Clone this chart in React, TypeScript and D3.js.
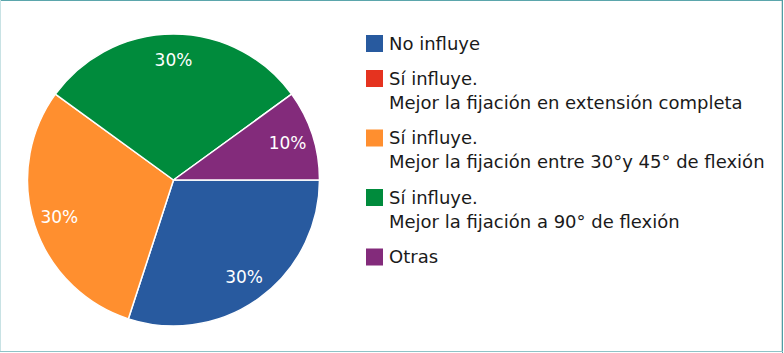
import React from "react";
import * as d3 from "d3";

const categories: string[][] = [
  ["No influye"],
  ["Sí influye.", "Mejor la fijación en extensión completa"],
  ["Sí influye.", "Mejor la fijación entre 30°y 45° de flexión"],
  ["Sí influye.", "Mejor la fijación a 90° de flexión"],
  ["Otras"],
];
const values: number[] = [30, 0, 30, 30, 10];
const colors: string[] = ["#285A9F", "#E5331F", "#FF8F2F", "#008B3C", "#832B7B"];

const W = 784;
const H = 353;
const FONT = "'DejaVu Sans', 'Noto Sans', sans-serif";

export default function App() {
  const cx = 173.5;
  const cy = 180;
  const R = 146;
  const total = d3.sum(values);
  const pie = d3
    .pie<number>()
    .sort(null)
    .value((d) => d)
    .startAngle(Math.PI / 2)
    .endAngle(Math.PI / 2 + 2 * Math.PI);
  const arcs = pie(values);
  const arcGen = d3.arc<d3.PieArcDatum<number>>().innerRadius(0).outerRadius(R);
  const labelArc = d3.arc<d3.PieArcDatum<number>>().innerRadius(120).outerRadius(120);

  let yCursor = 35;
  const legendItems = categories.map((lines, i) => {
    const top = yCursor;
    yCursor += 35 + 24.5 * (lines.length - 1);
    return { lines, top, color: colors[i] };
  });

  return (
    <svg
      width={W}
      height={H}
      style={{ position: "absolute", left: 0, top: 0, display: "block" }}
      fontFamily={FONT}
    >
      <rect x={0} y={0} width={W} height={H} fill="#ffffff" />
      <line x1={0} x2={783} y1={0.5} y2={0.5} stroke="#5BA6AC" strokeWidth={1} />
      <line x1={0.5} x2={0.5} y1={0} y2={352} stroke="#C8E2E4" strokeWidth={1} />
      <line x1={781.5} x2={781.5} y1={1} y2={352} stroke="#D5DDDE" strokeWidth={1} />
      <line x1={782.5} x2={782.5} y1={0} y2={353} stroke="#4E9DA4" strokeWidth={1} />
      <line x1={0} x2={783} y1={351.5} y2={351.5} stroke="#8FC3C7" strokeWidth={1} />
      <g transform={`translate(${cx},${cy})`}>
        {arcs.map((a, i) =>
          a.value > 0 ? (
            <path key={i} d={arcGen(a) || ""} fill={colors[i]} stroke="#ffffff" strokeWidth={1.5} strokeLinejoin="round" />
          ) : null
        )}
        {arcs.map((a, i) => {
          if (a.value <= 0) return null;
          const [lx, ly] = labelArc.centroid(a);
          return (
            <text
              key={"l" + i}
              x={lx}
              y={ly}
              textAnchor="middle"
              dominantBaseline="central"
              fill="#ffffff"
              fontSize={17}
            >
              {Math.round((a.value / total) * 100) + "%"}
            </text>
          );
        })}
      </g>
      <g>
        {legendItems.map((it, i) => (
          <g key={i}>
            <rect x={366} y={it.top} width={17} height={17} fill={it.color} />
            {it.lines.map((ln, j) => (
              <text key={j} x={389} y={it.top + 14.5 + j * 24} fontSize={18} fill="#1a1a1a">
                {ln}
              </text>
            ))}
          </g>
        ))}
      </g>
    </svg>
  );
}
